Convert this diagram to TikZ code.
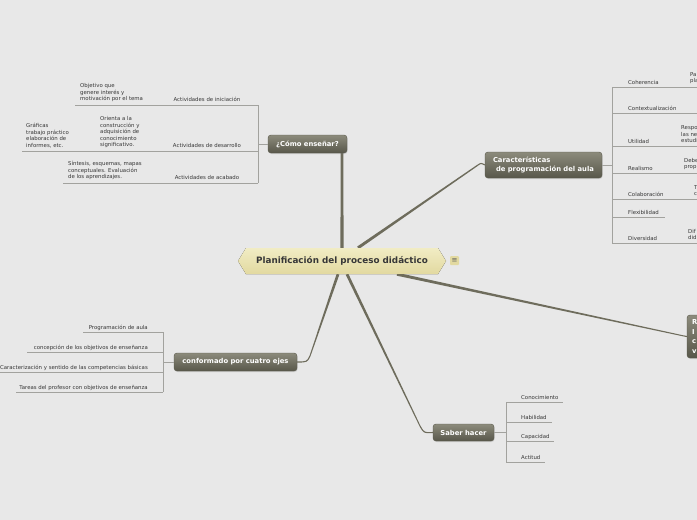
\documentclass[tikz,border=0pt]{standalone}
\usepackage{fontspec}
\setmainfont{DejaVu Sans}
\usepackage{tikz}
\usetikzlibrary{calc, shadows, backgrounds}
\definecolor{MMback}{RGB}{232,232,232}
\definecolor{MMtrunk}{RGB}{110,108,92}
\definecolor{MMtwig}{RGB}{162,162,158}
\definecolor{MMtext}{RGB}{55,55,55}
\definecolor{MMboxtop}{RGB}{140,139,124}
\definecolor{MMboxbot}{RGB}{88,87,74}
\definecolor{MMcoretop}{RGB}{241,236,196}
\definecolor{MMcorebot}{RGB}{226,217,160}

% tapered trunk: from, to, half width at start, half width at end
\newcommand{\taper}[4]{%
  \fill[MMtrunk] ($(#1)!#3!90:(#2)$) -- ($(#1)!#3!-90:(#2)$)
    -- ($(#2)!#4!90:(#1)$) -- ($(#2)!#4!-90:(#1)$) -- cycle;}

\tikzset{
  twig/.style={MMtwig, line width=0.8pt},
  thin trunk/.style={MMtrunk, line width=1.1pt},
  branch/.style={rounded corners=3pt, top color=MMboxtop, bottom color=MMboxbot,
    draw=MMboxbot, text=white, font=\bfseries\fontsize{6.8}{8.4}\selectfont,
    inner sep=0pt, drop shadow={opacity=0.25, shadow xshift=0.6pt, shadow yshift=-1pt}},
  leaf/.style={text=MMtext, font=\fontsize{5.4}{6.5}\selectfont, inner sep=0pt, align=left}
}

\begin{document}
\begin{tikzpicture}[x=1pt, y=-1pt]
        \useasboundingbox (0,0) rectangle (697,520);
        % Central topic
        \node[font=\bfseries\fontsize{8.8}{10}\selectfont, text=MMtext, inner sep=0pt,
              minimum width=208, minimum height=26] (plan) at (342,261)
              {Planificación del proceso didáctico};
        \node[fill=MMcorebot, rounded corners=1pt, minimum size=9, inner sep=0pt,
              font=\fontsize{7}{7}\selectfont, text=MMtext!80] (note) at (454.5,260.5) {≡};
        % Main branches
        \node[branch, minimum width=79, minimum height=18] (como) at (307.5,144) {¿Cómo enseñar?};
        \node[branch, minimum width=117, minimum height=26, align=left] (carac) at (543.5,165)
              {Características\\\hspace*{3pt}de programación del aula};
        \node[branch, minimum width=123, minimum height=18] (cuatro) at (235.5,362) {conformado por cuatro ejes};
        \node[branch, minimum width=61, minimum height=17] (saber) at (463.5,432.5) {Saber hacer};
        \node[branch, minimum height=43, text width=40, inner xsep=5pt, align=left,
              font=\bfseries\fontsize{6.8}{9.5}\selectfont] (otro) at (712,336.5) {R\\I\\c\\v};

        % Trunks, under the central topic
        \begin{scope}[on background layer]
        \fill[MMback] (0,0) rectangle (697,520);
        \coordinate (t1) at (plan.north);
        \coordinate (t2) at ($(plan.north)+(16,0)$);
        \coordinate (t3) at ($(plan.south)+(55,0)$);
        \coordinate (t4) at ($(plan.south)+(5,0)$);
        \coordinate (t5) at ($(plan.south)+(-4,0)$);
        \coordinate (k1) at (plan.north |- como.south);
        \coordinate (k2) at (478,165);
        \coordinate (k3) at (684,336);
        \coordinate (k4) at (420,426);
        \coordinate (k5) at (310,356);
        \taper{t1}{k1}{1.6pt}{1.3pt}
        \taper{t2}{k2}{1.5pt}{0.6pt}
        \taper{t3}{k3}{1.5pt}{0.5pt}
        \taper{t4}{k4}{1.4pt}{0.5pt}
        \taper{t5}{k5}{1.4pt}{0.5pt}
        \draw[thin trunk] (k2) .. controls (481,163) .. (carac.west);
        \draw[thin trunk] (k3) -- (otro.west);
        \draw[thin trunk] (k4) .. controls (424,433) .. (saber.west);
        \draw[thin trunk] (k5) .. controls (307,362) .. (cuatro.east);
        % Central shape
        \fill[top color=MMcoretop, bottom color=MMcorebot]
              (238,261) -- (246,248) -- (438,248) -- (446,261) -- (438,274) -- (246,274) -- cycle;
        \end{scope}

        % ¿Cómo enseñar?
        \coordinate (ce) at (258,144);
        \draw[twig] (como.west) -- (ce);
        \draw[twig] (258,105) -- (258,183);
        \draw[twig] (258,105) -- (75,105);
        \draw[twig] (258,151) -- (22,151);
        \draw[twig] (258,183) -- (63,183);
        \node[leaf, anchor=base] (ini) at (207,101.5) {Actividades de iniciación};
        \node[leaf, anchor=south west] (obj) at (80,102) {Objetivo que\\genere interés y\\motivación por el tema};
        \node[leaf, anchor=base] (des) at (207,147.5) {Actividades de desarrollo};
        \node[leaf, anchor=south west] (ori) at (100,148) {Orienta a la\\construcción y\\adquisición de\\conocimiento\\significativo.};
        \node[leaf, anchor=south west] (gra) at (26,148) {Gráficas\\trabajo práctico\\elaboración de\\informes, etc.};
        \node[leaf, anchor=base] (aca) at (207,179.5) {Actividades de acabado};
        \node[leaf, anchor=south west] (sin) at (68,180) {Síntesis, esquemas, mapas\\conceptuales. Evaluación\\de los aprendizajes.};

        % Características de programación del aula
        \coordinate (ke) at (612,165);
        \draw[twig] (carac.east) -- (ke);
        \draw[twig] (612,87) -- (612,243);
        \foreach \y in {87,113,146,173,199,243}
          \draw[twig] (612,\y) -- (700,\y);
        \draw[twig] (612,217) -- (665,217);
        \node[leaf, anchor=base west] (coh) at (628,84.5) {Coherencia};
        \node[leaf, anchor=base west] (con) at (628,110.5) {Contextualización};
        \node[leaf, anchor=base west] (uti) at (628,143) {Utilidad};
        \node[leaf, anchor=base west] (rea) at (628,170) {Realismo};
        \node[leaf, anchor=base west] (col) at (628,196) {Colaboración};
        \node[leaf, anchor=base west] (fle) at (628,214) {Flexibilidad};
        \node[leaf, anchor=base west] (div) at (628,240) {Diversidad};
        \node[leaf, anchor=south west] (cohd) at (690,84) {Pa\\pla};
        \node[leaf, anchor=south west] (utid) at (681,143) {Respo\\las ne\\estudi};
        \node[leaf, anchor=south west] (read) at (684,170) {Debe\\prop};
        \node[leaf, anchor=south west] (cold) at (694,196) {T\\c};
        \node[leaf, anchor=south west] (divd) at (688,240) {Dif\\did};

        % conformado por cuatro ejes
        \coordinate (ue) at (163,362);
        \draw[twig] (cuatro.west) -- (ue);
        \draw[twig] (163,332) -- (163,392);
        \draw[twig] (163,332) -- (83,332);
        \draw[twig] (163,352) -- (27,352);
        \draw[twig] (163,372) -- (-5,372);
        \draw[twig] (163,392) -- (16,392);
        \node[leaf, anchor=base east] (pro) at (148,329) {Programación de aula};
        \node[leaf, anchor=base east] (cop) at (148,349) {concepción de los objetivos de enseñanza};
        \node[leaf, anchor=base east] (car) at (148,369) {Caracterización y sentido de las competencias básicas};
        \node[leaf, anchor=base east] (tar) at (148,389) {Tareas del profesor con objetivos de enseñanza};

        % Saber hacer
        \coordinate (se) at (506,432.5);
        \draw[twig] (saber.east) -- (se);
        \draw[twig] (506,402) -- (506,462);
        \draw[twig] (506,402) -- (563,402);
        \draw[twig] (506,422) -- (552,422);
        \draw[twig] (506,441) -- (554,441);
        \draw[twig] (506,462) -- (545,462);
        \node[leaf, anchor=base west] (cno) at (521,399) {Conocimiento};
        \node[leaf, anchor=base west] (hab) at (521,419) {Habilidad};
        \node[leaf, anchor=base west] (cap) at (521,438.5) {Capacidad};
        \node[leaf, anchor=base west] (act) at (521,459) {Actitud};
      \end{tikzpicture}
\end{document}
